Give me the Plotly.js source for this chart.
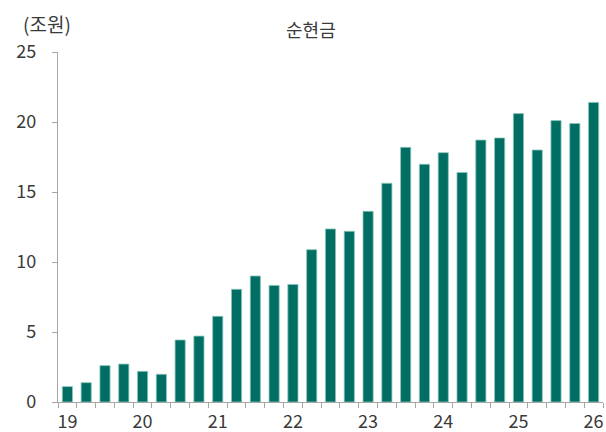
<!DOCTYPE html>
<html>
<head>
<meta charset="utf-8">
<script src="https://cdn.plot.ly/plotly-3.0.1.min.js"></script>
<style>html,body{margin:0;padding:0;background:#fff;}#chart{width:606px;height:432px;}</style>
</head>
<body>
<div id="chart"></div>
<script>
const quarters = [19, 19.25, 19.5, 19.75, 20, 20.25, 20.5, 20.75, 21, 21.25, 21.5, 21.75, 22, 22.25, 22.5, 22.75, 23, 23.25, 23.5, 23.75, 24, 24.25, 24.5, 24.75, 25, 25.25, 25.5, 25.75, 26];
const netCash = [1.1, 1.38, 2.6, 2.71, 2.19, 1.98, 4.43, 4.71, 6.12, 8.05, 9.0, 8.33, 8.4, 10.88, 12.36, 12.19, 13.62, 15.62, 18.19, 16.98, 17.81, 16.4, 18.71, 18.86, 20.6, 18.0, 20.1, 19.9, 21.4];
const xTickVals = [19, 20, 21, 22, 23, 24, 25, 26];
const xTickText = ['19', '20', '21', '22', '23', '24', '25', '26'];
const yTickVals = [0, 5, 10, 15, 20, 25];

const font = 'Noto Sans CJK KR, Noto Sans, sans-serif';
const txt = '#3a3a3a';
const data = [{
  type: 'bar',
  x: quarters,
  y: netCash,
  width: 0.135,
  marker: {color: '#006e62', line: {color: '#8cc5bb', width: 0.8}},
  hoverinfo: 'none'
}];
const layout = {
  width: 606, height: 432,
  margin: {l: 57.6, r: 2.6, t: 52, b: 30},
  paper_bgcolor: '#fff', plot_bgcolor: '#fff',
  showlegend: false,
  font: {family: font, color: txt, size: 17},
  title: {text: '순현금', x: 0.513, xanchor: 'center', y: 0.93, yanchor: 'middle', font: {size: 18, color: txt, family: font}},
  xaxis: {
    range: [18.875, 26.125],
    tickvals: xTickVals, ticktext: xTickText,
    ticks: '', showgrid: false, zeroline: false,
    showline: true, linecolor: '#a6a6a6', linewidth: 1.2,
    minor: {ticks: 'outside', tick0: 18.875, dtick: 0.25, ticklen: 5, tickcolor: '#a6a6a6', tickwidth: 1, showgrid: false},
    tickfont: {size: 18, color: txt, family: font},
    ticklabelstandoff: 3
  },
  yaxis: {
    range: [0, 25],
    tickvals: yTickVals,
    ticks: 'outside', ticklen: 5, tickcolor: '#a6a6a6', tickwidth: 1,
    showgrid: false, zeroline: false,
    showline: true, linecolor: '#a6a6a6', linewidth: 1.2,
    tickfont: {size: 18, color: txt, family: font},
    ticklabelstandoff: 12
  },
  annotations: [{
    text: '(조원)', xref: 'paper', yref: 'paper', x: -0.067, y: 1.0, xanchor: 'left', yanchor: 'middle',
    yshift: 29, showarrow: false, font: {size: 19, color: txt, family: font}
  }]
};
Plotly.newPlot('chart', data, layout, {displayModeBar: false, staticPlot: true});
</script>
</body>
</html>
